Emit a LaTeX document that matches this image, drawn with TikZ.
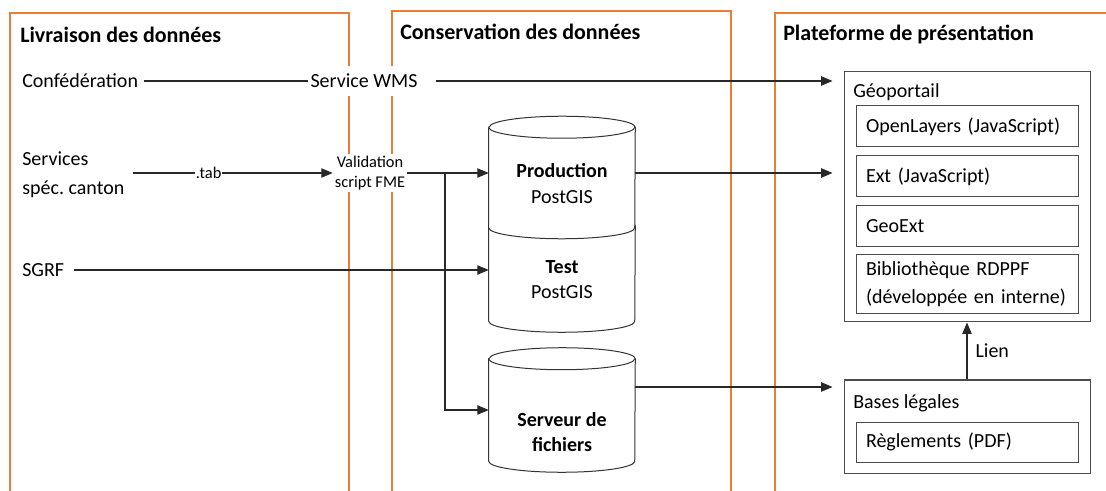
\documentclass[tikz,border=0pt]{standalone}
\usepackage{fontspec}
\setmainfont{Carlito}
\usetikzlibrary{arrows.meta,positioning,calc,backgrounds}
\definecolor{panelorange}{RGB}{237,125,49}
\definecolor{linegray}{RGB}{40,40,40}

% cylinder drawn round an empty body node
\newcommand\dbshape[1]{%
  \draw[dbline] (#1.north west) -- (#1.south west)
    arc[start angle=180, end angle=360, x radius=54.75pt, y radius=8.25pt]
    -- (#1.north east)
    arc[start angle=0, end angle=180, x radius=54.75pt, y radius=8.25pt] -- cycle;
  \draw[dbline] (#1.north west)
    arc[start angle=180, end angle=360, x radius=54.75pt, y radius=8.25pt];
}

\begin{document}
\frenchspacing
\begin{tikzpicture}[x=0.75pt,y=-0.75pt,
    node distance=6pt,
    panel/.style={draw=panelorange, line width=1.1pt},
    title/.style={anchor=west, inner sep=0pt, font=\fontsize{16.5}{20}\selectfont\bfseries},
    txt/.style={inner sep=0pt, font=\fontsize{15}{22}\selectfont},
    small/.style={inner sep=1.5pt, fill=white, font=\fontsize{12.3}{15}\selectfont},
    box/.style={draw=black!70, line width=0.75pt, rectangle, inner sep=0pt},
    item/.style={box, text width=151.5pt, inner xsep=7.5pt, align=left,
        font=\fontsize{15}{21.5}\selectfont},
    dbbody/.style={rectangle, inner sep=0pt, minimum width=109.5pt},
    dbline/.style={draw=black!80, fill=white, line width=0.75pt},
    dbtext/.style={align=center, inner sep=0pt, font=\fontsize{15}{19}\selectfont},
    arr/.style={draw=linegray, line width=0.8pt, -{Triangle[length=8.5pt,width=7pt]}},
    ln/.style={draw=linegray, line width=0.8pt}
]
\useasboundingbox (0,0) rectangle (1106,491);

% the three columns
\draw[panel] (10,491) |- (349,13) -- (349,491);
\draw[panel] (392,491) |- (731,11) -- (731,491);
\draw[panel] (775,491) |- (1110,13);

\node[title] (tliv) at (20,35) {Livraison des données};
\node[title] (tcons) at (400,32) {Conservation des données};
\node[title] (tplat) at (783,35) {Plateforme de présentation};

% sources
\node[txt, anchor=west] (conf) at (22,81) {Confédération};
\node[txt, anchor=west, align=left] (svc) at (22,175) {Services\\spéc. canton};
\node[txt, anchor=west] (sgrf) at (22,270) {SGRF};
\node[txt, fill=white, inner xsep=2pt, inner ysep=6pt] (wms) at (364,81) {Service WMS};
\node[small, align=center] (val) at (370,173) {Validation\\script FME};

% databases
\node[dbbody, minimum height=71.25pt] (test) at (562,273.5) {};
\node[dbbody, minimum height=75pt] (prod) at (562,177.5) {};
\node[dbbody, minimum height=76.5pt] (srv) at (562,410) {};
\begin{scope}[on background layer]
  \dbshape{test}
  \dbshape{prod}
  \dbshape{srv}
\end{scope}
\node[dbtext] (prodlbl) at ($(prod)+(0,6)$) {\textbf{Production}\\PostGIS};
\node[dbtext] (testlbl) at ($(test)+(0,6)$) {\textbf{Test}\\PostGIS};
\node[dbtext] (srvlbl) at ($(srv)+(0,22)$) {\textbf{Serveur de}\\\textbf{fichiers}};

% presentation
\node[box, minimum width=184.5pt, minimum height=187.5pt] (geo) at (967,197) {};
\node[txt, anchor=west] (geolbl) at (853,92) {Géoportail};
\node[item, minimum height=30.75pt] (ol) at (967,126.5) {OpenLayers (JavaScript)};
\node[item, minimum height=30.75pt, below=of ol] (ext) {Ext (JavaScript)};
\node[item, minimum height=30.75pt, below=of ext] (gx) {GeoExt};
\node[item, minimum height=44.25pt, below=5pt of gx] (lib) {Bibliothèque RDPPF\\(développée en interne)};

\node[box, minimum width=184.5pt, minimum height=69.75pt] (base) at (967,426.5) {};
\node[txt, anchor=west] (baselbl) at (853,403) {Bases légales};
\node[item, minimum height=30pt] (regl) at (967,442) {Règlements (PDF)};

% connectors
\draw[ln] ([xshift=4pt]conf.east) -- (wms.west);
\draw[arr, shorten >=8.25pt] ([xshift=12pt]wms.east) -- (wms -| geo.west);
\draw[arr] ([xshift=6pt]svc.east |- val) -- node[small, pos=0.38, inner sep=0.5pt] {.tab} (val.west);
\draw[arr] (val.east) -- (val -| prod.west);
\coordinate (split) at (445,173);
\draw[arr] (split) |- (srv.west);
\draw[arr] ([xshift=7.5pt]sgrf.east) -- (sgrf -| test.west);
\draw[arr, shorten >=8.25pt] (val -| prod.east) -- (val -| geo.west);
\coordinate (srvout) at ($(srv.east)+(0,-23)$);
\draw[arr, shorten >=8.25pt] (srvout) -- (srvout -| base.west);
\draw[arr] (base.north) -- node[txt, right=6pt] {Lien} (geo.south);
\end{tikzpicture}
\end{document}
